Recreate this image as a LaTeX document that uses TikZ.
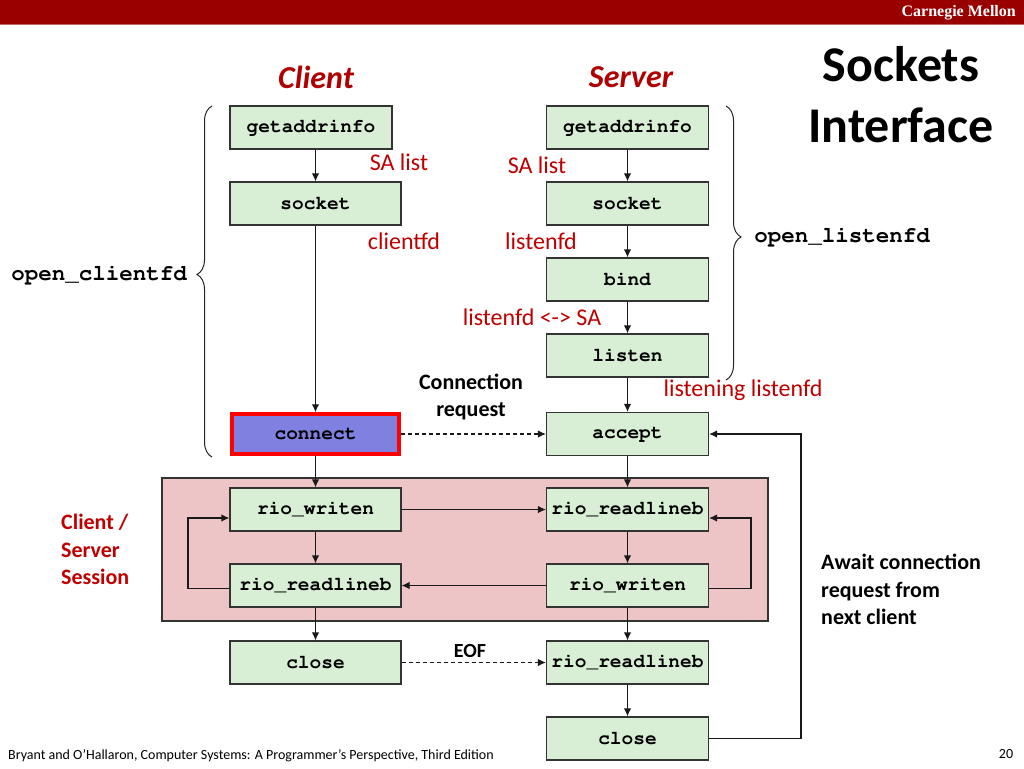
\documentclass[tikz,border=0pt]{standalone}
\usepackage[T1,TU]{fontenc}
\usepackage{fontspec}
\setmainfont{Carlito}
\newcommand\monof{\fontencoding{T1}\fontfamily{pcr}\fontseries{b}\selectfont}
\newfontfamily\timesf{Liberation Serif}
\usetikzlibrary{arrows.meta,decorations.pathreplacing,calc}
\definecolor{barred}{HTML}{990000}
\definecolor{lblred}{HTML}{C00000}
\definecolor{titred}{HTML}{B00000}
\definecolor{boxgreen}{HTML}{D9EFD5}
\definecolor{sessbg}{HTML}{EEC5C7}
\definecolor{connfill}{HTML}{8080E0}
\begin{document}
\begin{tikzpicture}[x=1pt,y=-1pt,
  fn/.style={draw=black!80, line width=1.2pt, fill=boxgreen, minimum height=43pt, minimum width=162pt, inner sep=0pt,
    font=\fontsize{19.5}{22}\monof},
  wide/.style={minimum width=171pt},
  arr/.style={-{Latex[length=8pt,width=7.5pt]}, line width=1.2pt, black!90},
  darr/.style={arr, dashed, dash pattern=on 4pt off 3pt},
  lbl/.style={text=lblred, font=\fontsize{24}{28}\selectfont, inner sep=0pt},
  bl/.style={font=\bfseries\fontsize{22}{27.5}\selectfont, inner sep=0pt},
  brc/.style={decorate, decoration={brace, amplitude=15pt}, line width=1pt, black!85},
  mono/.style={font=\fontsize{22.5}{26}\monof, inner sep=0pt}
]
\useasboundingbox (0,0) rectangle (1024,768);
\fill[white] (0,0) rectangle (1024,768);
% top bar
\fill[barred] (0,0) rectangle (1024,24);
\fill[barred!60] (0,24) rectangle (1024,25.5);
\node[anchor=east, text=white, font=\timesf\bfseries\fontsize{16}{18}\selectfont, inner sep=0pt] (cmu) at (1016,13) {Carnegie Mellon};
% titles
\node[text=titred, font=\bfseries\itshape\fontsize{32}{36}\selectfont] (tclient) at (316,77) {Client};
\node[text=titred, font=\bfseries\itshape\fontsize{32}{36}\selectfont] (tserver) at (631,77) {Server};
\node[align=center, font=\bfseries\fontsize{50}{61}\selectfont, inner sep=0pt] (ttl) at (901,95) {Sockets\\Interface};
% session background
\draw[fill=sessbg, draw=black!80, line width=1.2pt] (162,478) rectangle (768,621);
% client boxes
\node[fn] (cgai) at (311,127.5) {getaddrinfo};
\node[fn, wide] (csock) at (315.5,203.5) {socket};
\node[fn, minimum width=167pt, minimum height=40pt, fill=connfill, draw=red, line width=3.5pt] (conn) at (315.5,434) {connect};
\node[fn, wide] (cwr) at (315.5,509.5) {rio\_writen};
\node[fn, wide] (crd) at (315.5,585.5) {rio\_readlineb};
\node[fn, wide] (cclose) at (315.5,662.5) {close};
% server boxes
\node[fn] (sgai) at (627.5,127.5) {getaddrinfo};
\node[fn] (ssock) at (627.5,203.5) {socket};
\node[fn] (bind) at (627.5,279.5) {bind};
\node[fn] (listen) at (627.5,355.5) {listen};
\node[fn] (accept) at (627.5,434) {accept};
\node[fn] (srd) at (627.5,509.5) {rio\_readlineb};
\node[fn] (swr) at (627.5,585.5) {rio\_writen};
\node[fn] (srd2) at (627.5,662.5) {rio\_readlineb};
\node[fn] (sclose) at (627.5,738.5) {close};
% client arrows
\draw[arr] (cgai.south -| csock) -- (csock.north);
\draw[arr] (csock.south) -- (conn.north);
\draw[arr] (conn.south) -- (cwr.north);
\draw[arr] (cwr.south) -- (crd.north);
\draw[arr] (crd.south) -- (cclose.north);
% server arrows
\draw[arr] (sgai.south) -- (ssock.north);
\draw[arr] (ssock.south) -- (bind.north);
\draw[arr] (bind.south) -- (listen.north);
\draw[arr] (listen.south) -- (accept.north);
\draw[arr] (accept.south) -- (srd.north);
\draw[arr] (srd.south) -- (swr.north);
\draw[arr] (swr.south) -- (srd2.north);
\draw[arr] (srd2.south) -- (sclose.north);
% cross arrows
\draw[arr] (cwr.east) -- (cwr.east -| srd.west);
\draw[arr] (swr.west) -- (swr.west -| crd.east);
\draw[darr] (conn.east) -- (accept.west);
\draw[darr] (cclose.east) -- (srd2.west);
% loops
\coordinate (lx) at (188,0);
\coordinate (rx) at (751,0);
\coordinate (fx) at (801,0);
\draw[arr] ($(crd.west)+(0,3)$) -- ($(crd.west -| lx)+(0,3)$) |- ($(cwr.west)+(0,8.5)$);
\draw[arr] ($(swr.east)+(0,3)$) -- ($(swr.east -| rx)+(0,3)$) |- ($(srd.east)+(0,8.5)$);
\draw[arr] (sclose.east) -- (sclose.east -| fx) |- (accept.east);
% braces
\coordinate (lb1) at (212,457);
\coordinate (lb2) at (212,106);
\coordinate (rb1) at (726,106);
\coordinate (rb2) at (726,380);
\draw[brc, decoration={aspect=0.52}] (lb1) -- (lb2);
\draw[brc, decoration={aspect=0.478}] (rb1) -- (rb2);
\node[mono] (ocfd) at (99,275) {open\_clientfd};
\node[mono] (olfd) at (842,237) {open\_listenfd};
% red labels
\node[lbl] (l1) at (399,162) {SA list};
\node[lbl] (l2) at (537,165) {SA list};
\node[lbl] (l3) at (404,241) {clientfd};
\node[lbl] (l4) at (541,241) {listenfd};
\node[lbl] (l5) at (532,317) {listenfd <-> SA};
\node[lbl] (l6) at (743,390) {listening listenfd};
% black labels
\node[bl, align=center] (creq) at (471,397) {Connection\\request};
\node[bl, font=\bfseries\fontsize{20}{24}\selectfont] (eof) at (470,651) {EOF};
\node[bl, align=left, anchor=west, text=lblred] (sess) at (61,549.5) {Client /\\Server\\Session};
\node[bl, align=left, anchor=west] (await) at (821,589.5) {Await connection\\request from\\next client};
% footer
\node[anchor=west, inner sep=0pt, font=\fontsize{14}{16}\selectfont] (foot) at (8,756) {Bryant and O’Hallaron, Computer Systems: A Programmer’s Perspective, Third Edition};
\node[inner sep=0pt, font=\fontsize{14}{16}\selectfont] (pg) at (1006,754) {20};
\end{tikzpicture}
\end{document}
